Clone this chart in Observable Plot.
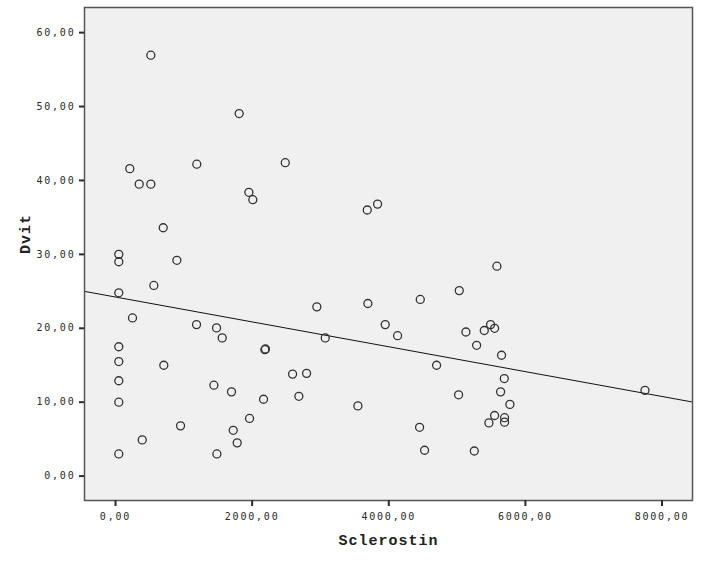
<!DOCTYPE html>
<html>
<head>
<meta charset="utf-8">
<script src="https://cdn.jsdelivr.net/npm/d3@7"></script>
<script src="https://cdn.jsdelivr.net/npm/@observablehq/plot@0.6"></script>
<style>
  html, body { margin: 0; padding: 0; background: #fff; }
  [aria-label$="tick label"] text { letter-spacing: 1.8px; }
  .axtitle text { letter-spacing: 1px; }
</style>
</head>
<body>
<div id="chart"></div>
<script>
// Sclerostin (x) and Dvit (y) values
const sclerostin = [
  48, 48, 48, 48, 48, 48, 48, 48,
  517, 1810, 209, 347, 517, 1190, 2485, 1952, 2010, 3685, 3836,
  698, 898, 561, 249, 1186, 1479, 1562, 707, 1440, 1698, 952,
  1723, 1781, 391, 1484, 1962, 2167, 3548, 4451, 4524, 5252,
  2947, 3694, 4461, 5032, 3948, 4129, 3070, 2186, 2195, 2592,
  2797, 4700, 2684, 5022, 5583, 5129, 5398, 5490, 5549, 5286,
  5651, 5691, 5637, 5773, 5549, 5466, 5695, 5695, 7750
];
const dvit = [
  30.0, 29.0, 24.8, 17.5, 15.5, 12.9, 10.0, 3.0,
  56.95, 49.05, 41.6, 39.5, 39.5, 42.2, 42.4, 38.4, 37.4, 36.0, 36.8,
  33.6, 29.2, 25.8, 21.4, 20.5, 20.05, 18.7, 15.0, 12.3, 11.4, 6.8,
  6.2, 4.5, 4.9, 3.0, 7.8, 10.4, 9.5, 6.6, 3.5, 3.4,
  22.9, 23.35, 23.9, 25.1, 20.5, 19.0, 18.7, 17.1, 17.2, 13.8,
  13.9, 15.0, 10.8, 11.0, 28.4, 19.5, 19.7, 20.5, 20.0, 17.7,
  16.35, 13.2, 11.4, 9.7, 8.2, 7.2, 7.9, 7.3, 11.6
];
const xTicks = [0, 2000, 4000, 6000, 8000];
const yTicks = [0, 10, 20, 30, 40, 50, 60];
const xDomain = [-454, 8446];
const yDomain = [-3.3, 63.4];
const xTitle = ["Sclerostin"];
const yTitle = ["Dvit"];

const points = sclerostin.map((s, i) => ({x: s, y: dvit[i]}));

// least-squares fit line drawn across the full x domain
const mx = d3.mean(sclerostin), my = d3.mean(dvit);
const slope = d3.sum(points, p => (p.x - mx) * (p.y - my)) / d3.sum(points, p => (p.x - mx) ** 2);
const icpt = my - slope * mx;
const fit = xDomain.map(x => ({x, y: icpt + slope * x}));

const fmt = d => d.toFixed(2).replace(".", ",");
const tickFont = "DejaVu Sans Mono";

const chart = Plot.plot({
  width: 703,
  height: 563,
  marginLeft: 84,
  marginRight: 11,
  marginTop: 7,
  marginBottom: 63,
  x: {domain: xDomain},
  y: {domain: yDomain},
  style: {background: "#fff", color: "#222"},
  marks: [
    Plot.frame({fill: "#f0f0f0", stroke: "none"}),
    Plot.line(fit, {x: "x", y: "y", stroke: "#111", strokeWidth: 1}),
    Plot.dot(points, {x: "x", y: "y", r: 4, stroke: "#333", strokeWidth: 1.3, fill: "none"}),
    Plot.frame({stroke: "#555", strokeWidth: 1.5}),
    Plot.axisY({ticks: yTicks, tickFormat: fmt, tickSize: 5, tickPadding: 4, label: null,
      fontFamily: tickFont, fontSize: 10, strokeWidth: 2, color: "#2a2a2a"}),
    Plot.axisX({ticks: xTicks, tickFormat: fmt, tickSize: 6, tickPadding: 6, label: null,
      fontFamily: tickFont, fontSize: 10, strokeWidth: 2, color: "#2a2a2a"}),
    Plot.text(xTitle, {frameAnchor: "bottom", text: d => d, dy: 44, fontFamily: "Liberation Mono",
      fontWeight: "bold", fontSize: 15, fill: "#222", className: "axtitle"}),
    Plot.text(yTitle, {frameAnchor: "left", text: d => d, dx: -59, rotate: -90, fontFamily: "Liberation Mono",
      fontWeight: "bold", fontSize: 15, fill: "#222", className: "axtitle"})
  ]
});
document.getElementById("chart").appendChild(chart);
</script>
</body>
</html>
